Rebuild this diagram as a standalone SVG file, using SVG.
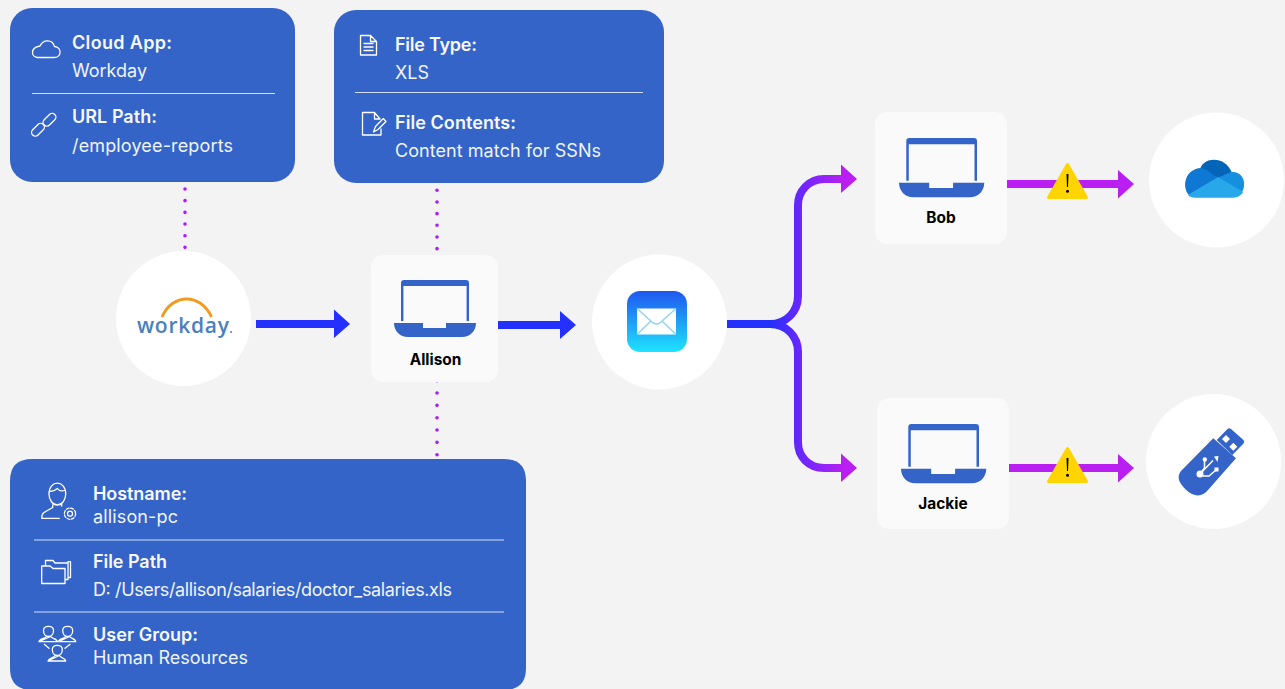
<svg xmlns="http://www.w3.org/2000/svg" width="1285" height="689" viewBox="0 0 1285 689">
<style>
.panel{fill:#3464c8}
.div{stroke:#d6e0f4;stroke-width:1.2;fill:none}
.h{font:600 18px Inter,"Liberation Sans",sans-serif;fill:#f6f8fd}
.v{font:400 18px Inter,"Liberation Sans",sans-serif;fill:#f0f4fc}
.ic{fill:none;stroke:#fff;stroke-width:1.3;stroke-linejoin:round;stroke-linecap:round}
.name{font:700 15.4px Inter,"Liberation Sans",sans-serif;fill:#000;text-anchor:middle}
.card{fill:#fafafa}
.disc{fill:#fff}
.dots{fill:none;stroke:#a91cf8;stroke-width:3.6;stroke-linecap:round;stroke-dasharray:0 11.67}
.blue{fill:#2330ff}
.mag{fill:#b91ff0}
.warn{fill:#ffd400;stroke:#ffd400;stroke-width:3;stroke-linejoin:round}
</style>
<defs>
<linearGradient id="branch" gradientUnits="userSpaceOnUse" x1="770" y1="0" x2="846" y2="0">
<stop offset="0" stop-color="#2330ff"/><stop offset="0.4" stop-color="#6a27ff"/><stop offset="1" stop-color="#bd1ff0"/>
</linearGradient>
<linearGradient id="mail" x1="0" y1="0" x2="0" y2="1">
<stop offset="0" stop-color="#1f56ee"/><stop offset="1" stop-color="#1ee4ff"/>
</linearGradient>
<g id="laptop">
<path fill="#3464c8" d="M0 43h29v5h23v-5h30c0 8-6 14-14 14H14C6 57 0 51 0 43z"/>
<path fill="#3464c8" d="M7 41V3q0-3 3-3h62q3 0 3 3v38h-2.400V6H9.400v35z"/>
</g>
<g id="warning">
<path class="warn" d="M0 1.500L19 34.500H-19z"/>
<path d="M-1 11H1L0.500 24H-0.500z" fill="#000"/>
<circle cx="0" cy="28.300" r="1.500" fill="#000"/>
</g>
</defs>
<rect width="1285" height="689" fill="#f3f3f3"/>

<g id="connectors">
<path class="dots" d="M185 189V248"/>
<path class="dots" d="M437 190.300V250"/>
<path class="dots" d="M437 380.700V456" style="stroke-dasharray:0 12.330"/>
<path class="blue" d="M256 320H334V309.500L350 324L334 338V328H256z"/>
<path class="blue" d="M498 321H560V311L576 325L560 339V329H498z"/>
<path d="M727 324H770C786 324 798 312 798 296V205C798 191 809 179 824 179H843" fill="none" stroke="url(#branch)" stroke-width="8"/>
<path d="M727 324H770C786 324 798 336 798 352V442C798 457 809 468 824 468H843" fill="none" stroke="url(#branch)" stroke-width="8"/>
<path class="mag" d="M841 164.500L857 179L841 193z"/>
<path class="mag" d="M841 453.500L857 468L841 482z"/>
<path class="mag" d="M1007 180H1118V170L1134 184L1118 198.500V188H1007z"/>
<path class="mag" d="M1009 464H1118V454L1134 468L1118 482.500V472H1009z"/>
<use href="#warning" x="1067.500" y="163"/>
<use href="#warning" x="1067.500" y="447"/>
</g>

<g id="panel-app">
<rect class="panel" x="10" y="8" width="285" height="174" rx="22"/>
<path class="div" d="M32 93.500H275"/>
<path class="ic" d="M38 57.500H54C62 57.500 62 47 54.500 46.500C52.500 39 43 39 40 46C37 46.500 32.500 48 32.500 52.500C32.500 55.500 35 57.500 38 57.500z"/>
<rect class="ic" x="30.500" y="126" width="15" height="7.500" rx="3.750" transform="rotate(-45 38 129.750)"/>
<rect class="ic" x="42" y="116" width="15" height="7.500" rx="3.750" transform="rotate(-45 49.500 119.750)"/>
<text class="h" x="72" y="48.500" textLength="100">Cloud App:</text>
<text class="v" x="72" y="77" textLength="75">Workday</text>
<text class="h" x="72" y="123" textLength="85">URL Path:</text>
<text class="v" x="72" y="151.500" textLength="161">/employee-reports</text>
</g>

<g id="panel-file">
<rect class="panel" x="334" y="10" width="330" height="173" rx="22"/>
<path class="div" d="M355 92.500H643"/>
<path class="ic" d="M360.500 35.500H370.500L376.500 41.500V55H360.500zM370.500 35.500V41.500H376.500M364 43.500H373M364 47H373M364 50.500H373"/>
<path class="ic" d="M381 129V135H362.500V112.500H374.500L380 119M374.500 112.500V119H380M373.500 132L375.500 126.500L383.300 118.500L386 121.500L378 129.500z"/>
<text class="h" x="395" y="51" textLength="82">File Type:</text>
<text class="v" x="395" y="79" textLength="34">XLS</text>
<text class="h" x="395" y="129" textLength="121">File Contents:</text>
<text class="v" x="395" y="157" textLength="206">Content match for SSNs</text>
</g>

<g id="panel-host">
<path class="panel" d="M32 459H504Q526 459 526 481V668Q526 690 504 690H32Q10 690 10 668V481Q10 459 32 459z"/>
<path class="div" d="M34 540H504M34 612H504"/>
<path class="ic" d="M49 494C49 479.500 65.700 479.500 65.700 494C65.700 500 62 505 57.300 505C52.700 505 49 500 49 494zM49.500 491C53 492 55 490.500 57.300 488.500C59 491 62 491.500 65.500 490M52.700 505V507.500L44 512.500Q41.700 514 41.700 518.300H59.300M61.700 503.500V506"/>
<circle class="ic" cx="70" cy="513.700" r="2.500"/>
<circle class="ic" cx="70" cy="513.700" r="5.600" stroke-dasharray="2.700 1.700" stroke-width="2"/>
<path class="ic" d="M41.700 583.500V566H50L53 568.500H65V583.500zM45.500 565.500V560.500H53L55 563H68V579.500H65.500M68 563.500V561.700H70.500V577.500H68"/>
<path class="ic" d="M43.500 630.500C43.500 625 53.500 625 53.500 630.500C53.500 634 51.500 636.500 48.500 636.500C45.500 636.500 43.500 634 43.500 630.500zM39 641.700C39.500 638.500 45.500 638.500 46.500 636.500M50.500 636.500C51.500 638.500 57 638.500 57.500 641.700H39zM62.700 630.500C62.700 625 72.700 625 72.700 630.500C72.700 634 70.700 636.500 67.700 636.500C64.700 636.500 62.700 634 62.700 630.500zM58.500 641.700C59 638.500 64.700 638.500 65.700 636.500M69.700 636.500C70.700 638.500 75.500 638.500 75.700 641.700H58.500zM52.300 649.500C52.300 644 62.300 644 62.300 649.500C62.300 653 60.300 655.500 57.300 655.500C54.300 655.500 52.300 653 52.300 649.500zM48 661C48.500 658 54 658 55.300 655.500M59.300 655.500C60.500 658 65.500 658 65.700 661H48zM44.300 644.300L49 648.300M70 644.300L65 648.300"/>
<text class="h" x="93" y="500" textLength="94">Hostname:</text>
<text class="v" x="93" y="523" textLength="85">allison-pc</text>
<text class="h" x="93" y="568" textLength="74">File Path</text>
<text class="v" x="93" y="596" textLength="359">D: /Users/allison/salaries/doctor_salaries.xls</text>
<text class="h" x="93" y="641" textLength="105">User Group:</text>
<text class="v" x="93" y="664" textLength="155">Human Resources</text>
</g>

<g id="node-workday">
<circle class="disc" cx="183.500" cy="318.500" r="67.500"/>
<path d="M162 317C172 293 201 293 211.500 317" fill="none" stroke="#f29a1f" stroke-width="2.800"/>
<text x="137" y="333.300" font-family="'Open Sans','Liberation Sans',sans-serif" font-size="21" font-weight="600" fill="#4a80bd" textLength="92">workday</text>
<circle cx="231" cy="332" r="1" fill="#4a80bd"/>
</g>

<g id="node-allison">
<rect class="card" x="371" y="255" width="127" height="127" rx="12"/>
<use href="#laptop" x="394" y="280"/>
<text class="name" x="435.500" y="365">Allison</text>
</g>

<g id="node-mail">
<circle class="disc" cx="659.500" cy="322" r="67.500"/>
<rect x="627" y="291" width="60" height="61" rx="13" fill="url(#mail)"/>
<path d="M637 308.500H676V334.500H637z" fill="#fff"/>
<path d="M637 308.500L652 322Q656.500 326 661 322L676 308.500M637 334.500L651 321M676 334.500L662 321" fill="none" stroke="#8ed2fa" stroke-width="1.400"/>
</g>

<g id="node-bob">
<rect class="card" x="875" y="112" width="132" height="132" rx="12"/>
<use href="#laptop" transform="translate(899 138) scale(1.040)"/>
<text class="name" x="941" y="222.500">Bob</text>
</g>

<g id="node-jackie">
<rect class="card" x="877" y="398" width="132" height="131" rx="12"/>
<use href="#laptop" transform="translate(901 424) scale(1.040)"/>
<text class="name" x="943" y="508.500">Jackie</text>
</g>

<g id="node-onedrive">
<circle class="disc" cx="1216.500" cy="180" r="67.500"/>
<path fill="#0364b8" d="M1200 169C1204 156 1226 156 1232 173L1218 180z"/>
<path fill="#0f78d4" d="M1189 195C1182 188 1184 170 1200 168C1204 168 1208 170 1212 174L1219 178z"/>
<path fill="#1490df" d="M1217 178L1231 172C1240 171 1245 178 1244 186C1244 188 1243 190 1242 192z"/>
<path fill="#28a8ea" d="M1195 197.700C1192 197.700 1190 197 1188 195L1218 177L1243 192C1241 196 1237 197.700 1233 197.700z"/>
</g>

<g id="node-usb">
<circle class="disc" cx="1213.500" cy="461.500" r="67.500"/>
<path fill="#3464c8" d="M1213.300 438.300L1236 458.300L1208 490C1204 495 1198 497 1192 494C1186 491 1181 485 1179 480C1178 476 1179 474 1181 471z"/>
<path fill="#3464c8" d="M1216.700 440L1227.500 429Q1229.300 427.300 1231 429L1243.500 440Q1245 441.700 1243.500 443.500L1232.300 455z"/>
<path fill="#fff" d="M1226 435l4 4-4 4-4-4zM1233.300 442.700l4 4-4 4-4-4z"/>
<path d="M1200 474L1213 460.500M1200 474L1204.500 468V461M1203 476H1209L1216 470" fill="none" stroke="#fff" stroke-width="1.500"/>
<circle cx="1200" cy="474" r="3.500" fill="#fff"/>
<circle cx="1204.800" cy="459.500" r="2.200" fill="#fff"/>
<rect x="1214.500" y="467.500" width="4" height="4" fill="#fff"/>
<path fill="#fff" d="M1214 456.500L1218.500 456L1217.500 462z"/>
</g>
</svg>
